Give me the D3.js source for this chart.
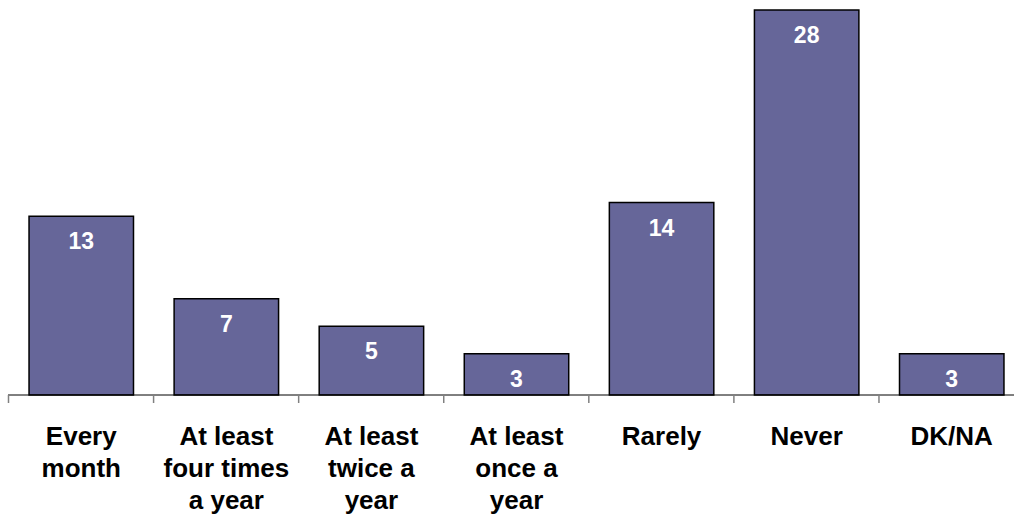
<!DOCTYPE html>
<html>
<head>
<meta charset="utf-8">
<script src="https://cdn.jsdelivr.net/npm/d3@7"></script>
<style>
  body { margin: 0; background: #fff; }
  svg { display: block; }
</style>
</head>
<body>
<div id="chart"></div>
<script>
// chart data
const categories = ["Every month", "At least four times a year", "At least twice a year",
  "At least once a year", "Rarely", "Never", "DK/NA"];
const catLines = [["Every", "month"], ["At least", "four times", "a year"], ["At least", "twice a", "year"],
  ["At least", "once a", "year"], ["Rarely"], ["Never"], ["DK/NA"]];
const values = [13, 7, 5, 3, 14, 28, 3];

const width = 1014, height = 515;
const x0 = 8, x1 = 1025, baseY = 395, topY = 10;

const svg = d3.select("#chart").append("svg")
  .attr("width", width)
  .attr("height", height);

const x = d3.scaleBand()
  .domain(categories)
  .range([x0, x1])
  .paddingInner(0.28)
  .paddingOuter(0.145);

const y = d3.scaleLinear()
  .domain([0, 28])
  .range([baseY, topY]);

// bars
svg.selectAll("rect.bar")
  .data(values)
  .join("rect")
  .attr("class", "bar")
  .attr("x", (d, i) => x(categories[i]))
  .attr("y", d => y(d))
  .attr("width", x.bandwidth())
  .attr("height", d => baseY - y(d))
  .attr("fill", "#666699")
  .attr("stroke", "#000")
  .attr("stroke-width", 1.5);

// value labels
svg.selectAll("text.val")
  .data(values)
  .join("text")
  .attr("class", "val")
  .attr("x", (d, i) => x(categories[i]) + x.bandwidth() / 2)
  .attr("y", d => y(d) + 33)
  .attr("text-anchor", "middle")
  .attr("fill", "#fff")
  .style("font-family", "'Liberation Sans', Arial, sans-serif")
  .style("font-weight", "bold")
  .style("font-size", "23px")
  .text(d => d);

// axis line + ticks between categories
svg.append("line")
  .attr("x1", x0).attr("x2", width)
  .attr("y1", baseY).attr("y2", baseY)
  .attr("stroke", "#000")
  .attr("stroke-width", 1);

const step = x.step();
const tickXs = d3.range(categories.length + 1).map(i => x0 + 0.5 + i * step);
svg.selectAll("line.tick")
  .data(tickXs)
  .join("line")
  .attr("class", "tick")
  .attr("x1", d => d).attr("x2", d => d)
  .attr("y1", baseY).attr("y2", baseY + 8)
  .attr("stroke", "#808080")
  .attr("stroke-width", 1.5);

// category labels
const lab = svg.selectAll("text.cat")
  .data(categories)
  .join("text")
  .attr("class", "cat")
  .attr("text-anchor", "middle")
  .attr("fill", "#000")
  .style("font-family", "'Liberation Sans', Arial, sans-serif")
  .style("font-weight", "bold")
  .style("font-size", "26px");

lab.selectAll("tspan")
  .data((d, i) => catLines[i].map(t => ({ t, cx: x(d) + x.bandwidth() / 2 })))
  .join("tspan")
  .attr("x", d => d.cx)
  .attr("y", (d, j) => 445 + j * 32)
  .text(d => d.t);
</script>
</body>
</html>
